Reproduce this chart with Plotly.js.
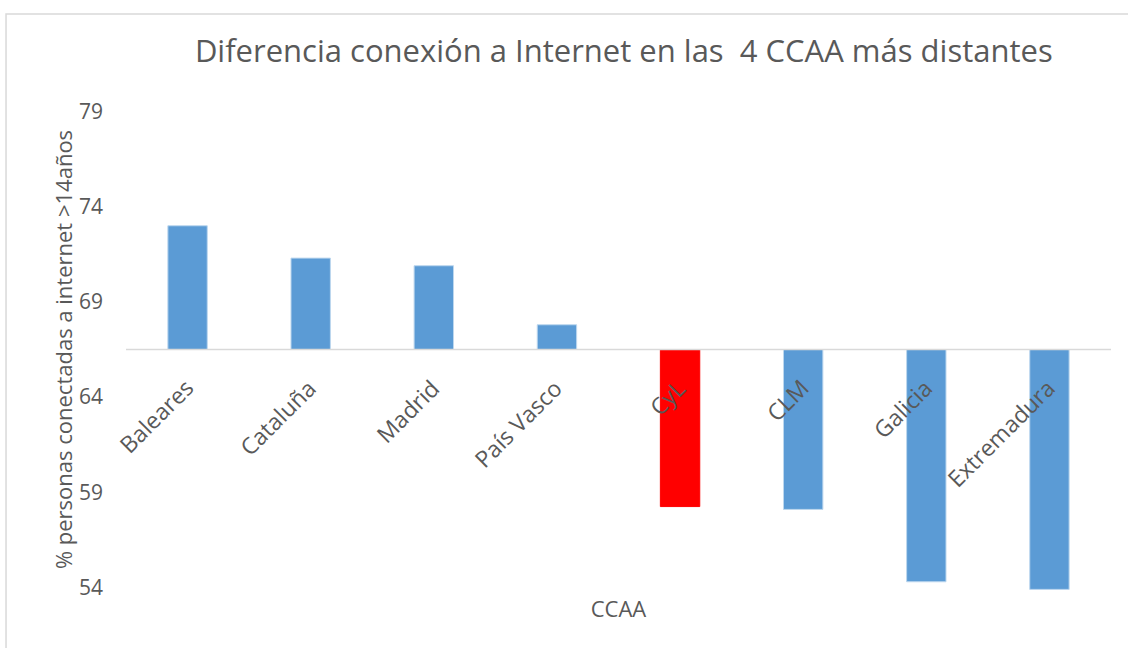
<!DOCTYPE html>
<html>
<head>
<meta charset="utf-8">
<script src="https://cdn.plot.ly/plotly-3.0.1.min.js"></script>
<style>
html,body{margin:0;padding:0;background:#fff;}
#chart{width:1128px;height:648px;}
</style>
</head>
<body>
<div id="chart"></div>
<script>
const categories = ["Baleares", "Cataluña", "Madrid", "País Vasco", "CyL", "CLM", "Galicia", "Extremadura"];
const values = [73.0, 71.3, 70.9, 67.8, 58.25, 58.1, 54.3, 53.9];
const baseline = 66.5;
const barColors = ["#5B9BD5", "#5B9BD5", "#5B9BD5", "#5B9BD5", "#FF0000", "#5B9BD5", "#5B9BD5", "#5B9BD5"];
const barEdges = ["#BDD7EE", "#BDD7EE", "#BDD7EE", "#BDD7EE", "#FF0000", "#BDD7EE", "#BDD7EE", "#BDD7EE"];
const yTicks = [54, 59, 64, 69, 74, 79];

const FONT = "Open Sans, DejaVu Sans, sans-serif";
const TXT = "#595959";

const trace = {
  type: "bar",
  x: categories,
  y: values.map(v => v - baseline),
  base: baseline,
  marker: {color: barColors, line: {color: barEdges, width: 1}},
  hoverinfo: "skip"
};

const labelAnnotations = categories.map(c => ({
  x: c, y: baseline, xref: "x", yref: "y",
  text: c, showarrow: false, textangle: -45,
  xanchor: "right", yanchor: "top",
  xshift: 15, yshift: -20,
  font: {family: FONT, size: 23, color: TXT}
}));

const layout = {
  width: 1128, height: 648,
  margin: {l: 126, r: 17, t: 102, b: 51},
  paper_bgcolor: "#fff", plot_bgcolor: "rgba(0,0,0,0)",
  showlegend: false,
  bargap: 0.68,
  title: {
    text: "Diferencia conexión a Internet en las  4 CCAA más distantes",
    font: {family: FONT, size: 31, color: TXT},
    x: 0.553, xanchor: "center", y: 0.921, yanchor: "middle"
  },
  xaxis: {
    type: "category", range: [-0.5, 7.5],
    showticklabels: false, showline: false, showgrid: false, zeroline: false, ticks: "",
    title: {text: "CCAA", font: {family: FONT, size: 22, color: TXT}, standoff: 4}
  },
  yaxis: {
    range: [53.5, 79.5],
    tickvals: yTicks, ticktext: yTicks.map(String),
    showline: false, showgrid: false, zeroline: false, ticks: "",
    ticklabelstandoff: 22,
    tickfont: {family: FONT, size: 21, color: TXT},
    title: {text: "% personas conectadas a internet >14años", font: {family: FONT, size: 22, color: TXT}, standoff: 0}
  },
  annotations: labelAnnotations,
  shapes: [
    {type: "line", xref: "paper", yref: "y", x0: 0, x1: 1, y0: baseline, y1: baseline,
     line: {color: "#D9D9D9", width: 1.5}, layer: "above"},
    {type: "rect", xref: "paper", yref: "paper", x0: -0.1218, x1: 1.2, y0: -0.3, y1: 1.178,
     line: {color: "#D9D9D9", width: 1.5}, fillcolor: "rgba(0,0,0,0)", layer: "below"}
  ]
};

Plotly.newPlot("chart", [trace], layout, {displayModeBar: false, staticPlot: true});
</script>
</body>
</html>
